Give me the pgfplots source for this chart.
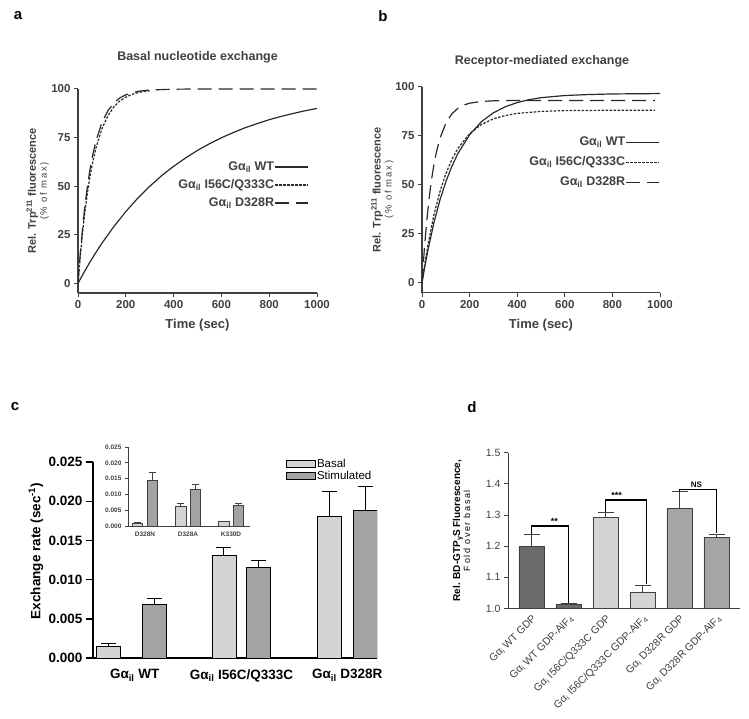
\documentclass[border=0pt]{standalone}
\usepackage{pgfplots}
\pgfplotsset{compat=1.18}
\usepackage{fontspec}
\setmainfont{Liberation Sans}
\definecolor{axgray}{HTML}{404040}
\definecolor{curve}{HTML}{2A2A2A}
\definecolor{basal}{HTML}{D4D4D4}
\definecolor{stim}{HTML}{A3A3A3}
\definecolor{wtdark}{HTML}{6A6A6A}
\definecolor{midgray}{HTML}{A5A5A5}
\newcommand{\fs}[1]{\fontsize{#1}{#1}\selectfont}

\pgfplotsset{
  kinetics/.style={
    scale only axis, anchor=south west,
    axis lines=left, axis line style={-, axgray, line width=1.1pt},
    xmin=0, xmax=1000, ymin=-5, ymax=100,
    xtick={0,200,400,600,800,1000}, ytick={0,25,50,75,100},
    tick align=outside, major tick length=4pt,
    tick style={axgray, line width=1pt},
    ticklabel style={font=\bfseries\fs{11.5}, text=axgray},
    /pgf/number format/assume math mode=true,
    /pgf/number format/1000 sep={},
    title style={font=\bfseries\fs{12.5}, text=axgray, anchor=center},
    xlabel={Time (sec)},
    xlabel style={font=\bfseries\fs{13}, text=axgray, anchor=center, at={(axis description cs:0.5,-0.157)}},
    ylabel={Rel. Trp\textsuperscript{211} fluorescence\\{\mdseries\fs{9.5}\addfontfeature{LetterSpace=18}(\% of max)}},
    ylabel style={font=\bfseries\fs{11}, text=axgray, align=center, rotate=0, anchor=center},
    legend plot pos=right, legend cell align=right,
    legend image code/.code={\draw[##1] (0pt,0pt) -- (33pt,0pt);},
    legend style={draw=none, fill=none, anchor=north east, font=\bfseries\fs{12.5}, text=axgray,
      nodes={inner sep=0.5pt, text height=9pt, text depth=3pt}, row sep=5pt},
  },
  wt/.style={curve, line width=1.2pt},
  mutA/.style={curve, line width=1.2pt, dash pattern=on 2.5pt off 1.5pt},
  mutB/.style={curve, line width=1.2pt, dash pattern=on 14pt off 7pt},
  fmt3/.style={/pgf/number format/fixed, /pgf/number format/fixed zerofill, /pgf/number format/precision=3},
  fmt1/.style={/pgf/number format/fixed, /pgf/number format/fixed zerofill, /pgf/number format/precision=1},
}

\begin{document}
\begin{tikzpicture}
\path[use as bounding box] (0pt,0pt) rectangle (749pt,-719pt);

% panel labels
\node[font=\bfseries\fs{15}] at (18pt,-16pt) {a};
\node[font=\bfseries\fs{15}] at (383pt,-16pt) {b};
\node[font=\bfseries\fs{15}] at (15pt,-407pt) {c};
\node[font=\bfseries\fs{15}] at (472pt,-407pt) {d};

% ---------- a ----------
\begin{axis}[kinetics,
  at={(78pt,-293pt)}, width=239pt, height=204pt,
  title={Basal nucleotide exchange},
  title style={at={(axis description cs:0.5,1.127)}},
  ylabel style={at={(axis description cs:-0.169,0.5)}},
  legend style={at={(axis description cs:0.979,0.66)}},
]
\addplot[wt] coordinates {(0,0)(25,5.6)(50,10.9)(75,15.9)(100,20.6)(150,29.2)(200,36.9)(250,43.8)(300,49.9)(350,55.4)(400,60.2)(450,64.5)(500,68.4)(550,71.8)(600,74.9)(650,77.6)(700,80.1)(750,82.2)(800,84.2)(850,85.9)(900,87.4)(950,88.8)(1000,90.0)};
\addlegendentry{Gα\textsubscript{il} WT}
\addplot[mutA] coordinates {(0,0)(10,14.7)(20,27.2)(30,37.9)(40,47.0)(50,54.8)(60,61.4)(75,69.6)(100,79.5)(125,86.2)(150,90.8)(175,93.8)(200,95.8)(225,97.2)(250,98.1)(275,98.7)(300,99.1)};
\addlegendentry{Gα\textsubscript{il} I56C/Q333C}
\addplot[mutB] coordinates {(0,0)(10,16.1)(20,29.6)(30,40.9)(40,50.4)(50,58.4)(60,65.1)(75,73.2)(100,82.7)(125,88.8)(150,92.8)(175,95.4)(200,97.0)(250,98.8)(300,99.5)(400,99.9)(500,100)(1000,100)};
\addlegendentry{Gα\textsubscript{il} D328R}
\end{axis}

% ---------- b ----------
\begin{axis}[kinetics,
  at={(422pt,-292.7pt)}, width=238pt, height=206pt,
  title={Receptor-mediated exchange},
  title style={at={(axis description cs:0.504,1.096)}},
  ylabel style={at={(axis description cs:-0.166,0.5)}},
  legend style={at={(axis description cs:1.013,0.77)}, row sep=7pt},
]
\addplot[wt] coordinates {(0,0)(10,7.1)(25,16.8)(50,30.6)(75,42.1)(100,51.5)(125,59.3)(150,65.8)(200,75.5)(250,82.2)(300,86.7)(350,89.8)(400,91.9)(450,93.4)(500,94.4)(600,95.5)(700,96.0)(800,96.3)(900,96.4)(1000,96.5)};
\addlegendentry{Gα\textsubscript{il} WT}
\addplot[mutA] coordinates {(0,0)(10,8.4)(25,19.5)(50,34.6)(75,46.4)(100,55.6)(125,62.8)(150,68.4)(200,76.1)(250,80.8)(300,83.6)(350,85.3)(400,86.4)(500,87.4)(600,87.8)(800,88.0)(980,88.0)};
\addlegendentry{Gα\textsubscript{il} I56C/Q333C}
\addplot[mutB] coordinates {(0,0)(10,17.5)(20,31.7)(30,43.2)(40,52.6)(50,60.2)(60,66.4)(75,73.5)(100,81.4)(125,86.1)(150,88.9)(175,90.6)(200,91.6)(250,92.5)(300,92.8)(400,93.0)(980,93.0)};
\addlegendentry{Gα\textsubscript{il} D328R}
\end{axis}

% ---------- c ----------
\begin{axis}[
  scale only axis, anchor=south west,
  at={(93pt,-658pt)}, width=284pt, height=196pt,
  ybar, bar width=0.222,
  xmin=-0.356, xmax=2.273, ymin=0, ymax=0.025,
  axis lines=left, axis line style={-, black, line width=1.6pt},
  ytick={0,0.005,0.010,0.015,0.020,0.025},
  scaled y ticks=false,
  yticklabel style={fmt3},
  /pgf/number format/assume math mode=true,
  tick align=outside, major tick length=7pt,
  ytick style={black, line width=1.4pt},
  xtick={0.03,1.019,1.998}, major x tick style={draw=none},
  xticklabels={{Gα\textsubscript{il} WT},{Gα\textsubscript{il} I56C/Q333C},{Gα\textsubscript{il} D328R}},
  ticklabel style={font=\bfseries\fs{13.5}},
  xticklabel style={yshift=-1pt},
  ylabel={Exchange rate (sec\textsuperscript{-1})},
  ylabel style={font=\bfseries\fs{13.5}, rotate=0, anchor=center, at={(axis description cs:-0.201,0.546)}},
  legend style={at={(axis description cs:0.669,1.031)}, anchor=north west, draw=none, fill=none,
    font=\fs{11.5}, row sep=0pt, nodes={inner sep=1pt, text height=8pt, text depth=2pt}},
  legend cell align=left,
  legend image code/.code={\draw[#1, line width=0.8pt] (0pt,-3.5pt) rectangle (29pt,4pt);},
  error bars/y dir=plus, error bars/y explicit,
  error bars/error bar style={black, line width=1pt},
  error bars/error mark options={rotate=90, black, line width=1pt, mark size=7.5pt},
]
\addplot[fill=basal, draw=black, line width=0.8pt, bar shift=0] coordinates {(-0.211,0.00148) +- (0,0.00034) (0.856,0.01305) +- (0,0.00105) (1.833,0.0180) +- (0,0.0032)};
\addlegendentry{Basal}
\addplot[fill=stim, draw=black, line width=0.8pt, bar shift=0] coordinates {(0.210,0.00686) +- (0,0.00074) (1.178,0.01157) +- (0,0.00085) (2.162,0.01877) +- (0,0.0031)};
\addlegendentry{Stimulated}
\end{axis}

% ---------- c inset ----------
\begin{axis}[
  scale only axis, anchor=south west,
  at={(128pt,-526pt)}, width=122pt, height=79pt,
  ybar, bar width=0.233,
  xmin=-0.226, xmax=2.61, ymin=0, ymax=0.025,
  axis lines=left, axis line style={-, axgray, line width=0.8pt},
  ytick={0,0.005,0.010,0.015,0.020,0.025},
  scaled y ticks=false,
  yticklabel style={fmt3},
  /pgf/number format/assume math mode=true,
  tick align=outside, major tick length=3pt,
  ytick style={axgray, line width=0.7pt},
  xtick={0.17,1.17,2.17}, major x tick style={draw=none},
  xticklabels={D328N,D328A,K330D},
  ticklabel style={font=\bfseries\fs{6.5}, text=axgray},
  xticklabel style={yshift=1pt},
  error bars/y dir=plus, error bars/y explicit,
  error bars/error bar style={axgray, line width=0.6pt},
  error bars/error mark options={rotate=90, axgray, line width=0.6pt, mark size=3.5pt},
]
\addplot[fill=basal, draw=axgray, line width=0.5pt, bar shift=0] coordinates {(0,0.0009) +- (0,0.0002) (1,0.0064) +- (0,0.0007) (2,0.0014) +- (0,0.0001)};
\addplot[fill=stim, draw=axgray, line width=0.5pt, bar shift=0] coordinates {(0.34,0.0145) +- (0,0.0024) (1.34,0.0116) +- (0,0.0015) (2.34,0.0065) +- (0,0.0008)};
\end{axis}

% ---------- d ----------
\begin{axis}[
  scale only axis, anchor=south west,
  at={(508pt,-608.5pt)}, width=232pt, height=155.8pt,
  ybar, bar width=0.68,
  xmin=-0.635, xmax=5.635, ymin=1, ymax=1.5,
  axis lines=left, axis line style={-, axgray, line width=1pt},
  ytick={1.0,1.1,1.2,1.3,1.4,1.5},
  yticklabel style={fmt1, font=\fs{10.5}, text=axgray},
  /pgf/number format/assume math mode=true,
  tick align=outside, major tick length=4pt,
  ytick style={axgray, line width=0.9pt},
  xtick={0,1,2,3,4,5}, major x tick style={draw=none},
  xticklabels={{Gα\textsubscript{i} WT GDP},{Gα\textsubscript{i} WT GDP-AlF\textsubscript{4}},{Gα\textsubscript{i} I56C/Q333C GDP},{Gα\textsubscript{i} I56C/Q333C GDP-AlF\textsubscript{4}},{Gα\textsubscript{i} D328R GDP},{Gα\textsubscript{i} D328R GDP-AlF\textsubscript{4}}},
  xticklabel style={font=\fs{10.5}, text=axgray, rotate=45, anchor=north east, inner sep=1pt},
  ylabel={Rel. BD-GTP\textsubscript{γ}S Fluorescence,\\{\mdseries\fs{9}\addfontfeature{LetterSpace=18}Fold over basal}},
  ylabel style={font=\bfseries\fs{10}, text=black, align=center, rotate=0, anchor=center, at={(axis description cs:-0.2,0.5)}},
  error bars/y dir=plus, error bars/y explicit,
  error bars/error bar style={axgray, line width=1pt},
  error bars/error mark options={rotate=90, axgray, line width=1pt, mark size=8pt},
]
\addplot[fill=wtdark, draw=axgray, line width=0.8pt, bar shift=0] coordinates {(0,1.198) +- (0,0.038) (1,1.012) +- (0,0.005)};
\addplot[fill=basal, draw=axgray, line width=0.8pt, bar shift=0] coordinates {(2,1.292) +- (0,0.017) (3,1.053) +- (0,0.022)};
\addplot[fill=midgray, draw=axgray, line width=0.8pt, bar shift=0] coordinates {(4,1.322) +- (0,0.052) (5,1.228) +- (0,0.011)};
\draw[black, line width=1.2pt] (axis cs:0,1.237) -- (axis cs:0,1.265) -- (axis cs:1,1.265) -- (axis cs:1,1.018);
\draw[black, line width=1.2pt] (axis cs:2,1.31) -- (axis cs:2,1.348) -- (axis cs:3.1,1.348) -- (axis cs:3.1,1.08);
\draw[black, line width=1.2pt] (axis cs:4,1.374) -- (axis cs:4,1.383) -- (axis cs:5,1.383) -- (axis cs:5,1.242);
\node[font=\bfseries\fs{9}] at (axis cs:0.62,1.281) {**};
\node[font=\bfseries\fs{9}] at (axis cs:2.3,1.364) {***};
\node[font=\bfseries\fs{8}] at (axis cs:4.46,1.397) {NS};
\end{axis}
\end{tikzpicture}
\end{document}
